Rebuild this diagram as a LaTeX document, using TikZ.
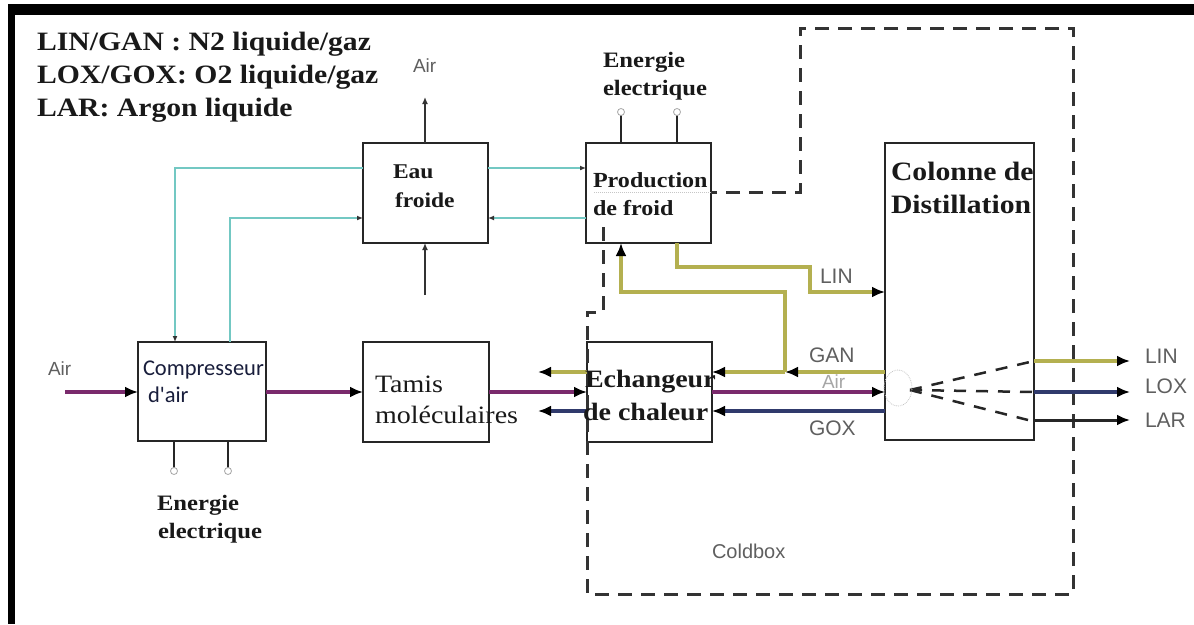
\documentclass[tikz,border=0pt]{standalone}
\usepackage{fontspec}
\setmainfont{Liberation Serif}[FakeStretch=1.12]
\newfontfamily\lblfont{Liberation Sans}
\newfontfamily\calfont{Carlito}
\usetikzlibrary{arrows.meta}
\definecolor{cyanl}{RGB}{115,200,195}
\definecolor{oliv}{RGB}{180,176,80}
\definecolor{purp}{RGB}{122,42,108}
\definecolor{navyb}{RGB}{48,58,108}
\definecolor{lblgray}{RGB}{95,95,95}
\definecolor{compcol}{RGB}{25,30,60}
\begin{document}
\begin{tikzpicture}[x=1pt,y=-1pt,
  box/.style={draw=black!85, line width=2.6pt, fill=white, rectangle, anchor=north west, inner sep=0pt, outer sep=0pt},
  txt/.style={anchor=base west, inner sep=0pt, outer sep=0pt},
  bigtip/.style={-{Latex[length=13pt,width=11pt,color=black]}},
  smalltip/.style={-{Latex[length=6pt,width=5pt,color=black!80]}},
  cyline/.style={draw=cyanl, line width=2.8pt, smalltip},
  olline/.style={draw=oliv, line width=4pt},
  puline/.style={draw=purp, line width=4pt},
  nvline/.style={draw=navyb, line width=3.5pt},
  bkline/.style={draw=black!85, line width=3pt},
  thinarrow/.style={draw=black!80, line width=1.3pt, -{Latex[length=7pt,width=6pt]}},
  coldbox/.style={draw=black!80, line width=3pt, dash pattern=on 14pt off 9pt},
  inner dash/.style={draw=black!85, line width=2.5pt, dash pattern=on 12pt off 10pt},
  termline/.style={draw=black!85, line width=2.6pt},
  termcirc/.style={circle, draw=gray!70, fill=white, line width=0.8pt, minimum size=7pt, inner sep=0pt},
  bser/.style={txt, font=\bfseries\fontsize{#1}{#1}\selectfont, text=black!90},
  lbl/.style={txt, font=\lblfont\fontsize{#1}{#1}\selectfont, text=lblgray}
]
\useasboundingbox (0,0) rectangle (1194,624);
% frame
\fill[black] (8,4) rectangle (1194,15);
\fill[black] (8,4) rectangle (15,624);

% boxes
\node[box, minimum width=125pt, minimum height=100pt] (eau) at (363,143) {};
\node[box, minimum width=125pt, minimum height=100pt] (prod) at (586,143) {};
\node[box, minimum width=128pt, minimum height=99pt] (comp) at (138,342) {};
\node[box, minimum width=126pt, minimum height=100pt] (tamis) at (363,342) {};
\node[box, minimum width=125pt, minimum height=100pt] (ech) at (587,342) {};
\node[box, minimum width=149pt, minimum height=297pt] (col) at (885,143) {};

% coldbox
\draw[coldbox] (603,227) -- (603,312) -- (587,312) -- (587,594) -- (1073,594) -- (1073,28) -- (800,28) -- (800,192) -- (711,192);
\draw[gray!45, densely dotted, line width=1pt] (711,192) -- (594,192);

% coordinates
\coordinate (c1) at (175,168);
\coordinate (c2) at (230,218);
\coordinate (airtop) at (425,97);
\coordinate (wbot) at (425,295);
\coordinate (airin) at (65,392);
\coordinate (gj) at (785,372);
\coordinate (gk) at (785,292);
\coordinate (gl) at (621,292);
\coordinate (gout) at (538,372);
\coordinate (gox) at (538,411);
\coordinate (l1) at (677,267);
\coordinate (l2) at (810,267);
\coordinate (l3) at (810,292);
\coordinate (oLIN) at (1130,361);
\coordinate (oLOX) at (1130,392);
\coordinate (oLAR) at (1130,420);
\coordinate (dsrc) at (910,390);
\coordinate (t1) at (621,112);
\coordinate (t2) at (677,112);
\coordinate (t3) at (174,471);
\coordinate (t4) at (228,471);

% cyan water loop
\draw[cyline] (eau.east |- c1) -- (prod.west |- c1);
\draw[cyline] (eau.west |- c1) -- (c1) -- (comp.north -| c1);
\draw[cyline] (comp.north -| c2) -- (c2) -- (eau.west |- c2);
\draw[cyline] (prod.west |- c2) -- (eau.east |- c2);

% air around eau froide
\draw[thinarrow] (eau.north -| airtop) -- (airtop);
\draw[thinarrow] (wbot) -- (eau.south -| wbot);

% air main line
\draw[puline, bigtip] (airin) -- (comp.west |- airin);
\draw[puline, bigtip] (comp.east |- airin) -- (tamis.west |- airin);
\draw[puline, bigtip] (tamis.east |- airin) -- (ech.west |- airin);
\draw[puline, bigtip] (ech.east |- airin) -- (col.west |- airin);

% GAN
\draw[olline, bigtip] (col.west |- gj) -- (gj);
\draw[olline, bigtip] (gj) -- (ech.east |- gj);
\draw[olline, bigtip] (gj) -- (gk) -- (gl) -- (prod.south -| gl);
\draw[olline, bigtip] (ech.west |- gout) -- (gout);
% GOX
\draw[nvline, bigtip] (col.west |- gox) -- (ech.east |- gox);
\draw[nvline, bigtip] (ech.west |- gox) -- (gox);
% LIN
\draw[olline, bigtip] (prod.south -| l1) -- (l1) -- (l2) -- (l3) -- (col.west |- l3);

% outputs
\draw[olline, bigtip] (col.east |- oLIN) -- (oLIN);
\draw[nvline, bigtip] (col.east |- oLOX) -- (oLOX);
\draw[bkline, bigtip] (col.east |- oLAR) -- (oLAR);
\draw[inner dash] (dsrc) -- (col.east |- oLIN);
\draw[inner dash] (dsrc) -- (col.east |- oLOX);
\draw[inner dash] (dsrc) -- ([xshift=-6pt]col.east |- oLAR);
\draw[gray!45, densely dotted, line width=0.8pt] (898,388) ellipse [x radius=14pt, y radius=18pt];

% terminals
\draw[termline] (prod.north -| t1) -- (t1);
\draw[termline] (prod.north -| t2) -- (t2);
\draw[termline] (comp.south -| t3) -- (t3);
\draw[termline] (comp.south -| t4) -- (t4);
\node[termcirc] (t1c) at (t1) {};
\node[termcirc] (t2c) at (t2) {};
\node[termcirc] (t3c) at (t3) {};
\node[termcirc] (t4c) at (t4) {};

% texts
\node[bser=26.5] (leg1) at (37,50) {LIN/GAN : N2 liquide/gaz};
\node[bser=26.5] (leg2) at (37,83) {LOX/GOX: O2 liquide/gaz};
\node[bser=26.5] (leg3) at (37,116) {LAR: Argon liquide};
\node[bser=22] (ena) at (603,67) {Energie};
\node[bser=22] (enb) at (603,95) {electrique};
\node[bser=22] (enc) at (157,510) {Energie};
\node[bser=22] (end) at (158,538) {electrique};
\node[bser=21] (eaua) at (393,178) {Eau};
\node[bser=21] (eaub) at (395,207) {froide};
\node[bser=21.5] (proda) at (593,187) {Production};
\node[bser=21.5] (prodb) at (593,215) {de froid};
\node[bser=26.5] (cola) at (891,180) {Colonne de};
\node[bser=26.5] (colb) at (891,213) {Distillation};
\node[bser=25] (echa) at (585,387) {Echangeur};
\node[bser=25] (echb) at (583,420) {de chaleur};
\node[txt, font=\fontsize{25}{25}\selectfont, text=black!90] (tama) at (375,392) {Tamis};
\node[txt, font=\fontsize{25}{25}\selectfont, text=black!90] (tamb) at (375,423) {moléculaires};
\node[txt, font=\calfont\fontsize{22.5}{22.5}\selectfont, text=compcol] (compa) at (143,375) {Compresseur};
\node[txt, font=\calfont\fontsize{22.5}{22.5}\selectfont, text=compcol] (compb) at (148,402) {d'air};
\node[lbl=19] (airl) at (48,375) {Air};
\node[lbl=19] (airt) at (413,72) {Air};
\node[lbl=21] (linm) at (820,283) {LIN};
\node[lbl=21] (ganm) at (809,362) {GAN};
\node[lbl=19, text=gray!70] (airm) at (822,388) {Air};
\node[lbl=21] (goxm) at (809,435) {GOX};
\node[lbl=21] (linr) at (1145,363) {LIN};
\node[lbl=21] (loxr) at (1145,393) {LOX};
\node[lbl=21] (larr) at (1145,427) {LAR};
\node[lbl=20] (cbox) at (712,558) {Coldbox};
\end{tikzpicture}
\end{document}
